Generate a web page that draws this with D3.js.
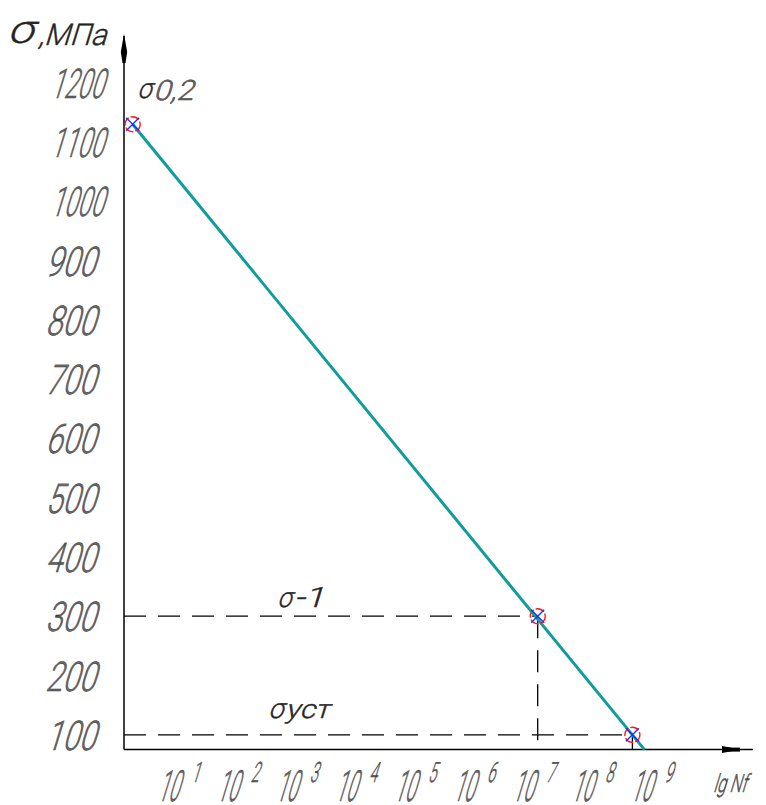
<!DOCTYPE html>
<html>
<head>
<meta charset="utf-8">
<script src="https://cdn.jsdelivr.net/npm/d3@7/dist/d3.min.js"></script>
<style>
  html, body { margin: 0; padding: 0; background: #fff; }
  svg { display: block; }
</style>
</head>
<body>
<svg id="chart" width="766" height="805"></svg>
<script>
// ---- data ----
const yTicks = [100, 200, 300, 400, 500, 600, 700, 800, 900, 1000, 1100, 1200];
const xExponents = [1, 2, 3, 4, 5, 6, 7, 8, 9];
const pointN = [1.4, 1e7, 4e8];
const pointS = [1130, 300, 100];
const pointNames = ["σ0,2", "σ-1", "σуст"];
const lineN = [1.4, 6.4e8];
const lineS = [1130, 75];

const svg = d3.select("#chart");
const FONT = "Roboto, 'DejaVu Sans', sans-serif";

const x = d3.scaleLog().domain([1, 1e9]).range([124, 124 + 9 * 59.1]);
const y = d3.scaleLinear().domain([75, 1200]).range([749.6, 82.7]);

const x0 = x(1), yBase = y(75);

// text helper: upright font, slanted by skew, compressed by textLength
function txt(px, py, str, size, len, anchor, fill) {
  const t = svg.append("text")
    .attr("transform", `translate(${px},${py}) skewX(-17)`)
    .attr("x", 0).attr("y", 0)
    .attr("font-family", FONT)
    .attr("font-weight", 300)
    .attr("font-size", size)
    .attr("text-anchor", anchor || "start")
    .attr("fill", fill || "#666")
    .attr("stroke", "#333")
    .attr("stroke-width", 0.45)
    .text(str);
  if (len) t.attr("textLength", len).attr("lengthAdjust", "spacingAndGlyphs");
  return t;
}

// ---- axes ----
// y axis
svg.append("line").attr("x1", x0).attr("x2", x0)
  .attr("y1", yBase).attr("y2", 36)
  .attr("stroke", "#000").attr("stroke-width", 1.5);
svg.append("path")
  .attr("d", `M${x0},34 L${x0 + 3.2},52 L${x0 + 1.5},63 L${x0 - 1.5},63 L${x0 - 3.2},52 Z`)
  .attr("fill", "#000");
// x axis
svg.append("line").attr("x1", x0).attr("x2", 753)
  .attr("y1", yBase).attr("y2", yBase)
  .attr("stroke", "#000").attr("stroke-width", 1.5);
svg.append("path")
  .attr("d", `M722,${yBase - 3.5} L741,${yBase} L722,${yBase + 3.5} Z`)
  .attr("fill", "#000");
svg.append("rect").attr("x", 728).attr("y", yBase - 2).attr("width", 12).attr("height", 4).attr("fill", "#000");

// y tick labels
yTicks.forEach(v => {
  const four = v >= 1000;
  txt(four ? 50 : 45, y(v) + 15, String(v), 41, four ? 53 : 50, "start");
});

// x tick labels 10^k
xExponents.forEach(k => {
  const px = x(Math.pow(10, k));
  txt(px - 26, 801, "10", 43, 21, "start");
  txt(px + 8, 782, String(k), 28, 8, "start");
});

// axis titles
txt(7, 43, "σ", 40, 26, "start", "#222");
txt(38, 45, ",МПа", 30, 68, "start", "#222");
txt(713, 792, "lg Nf", 25, 33, "start");

// ---- reference dashed lines ----
const dash = "22,12";
svg.append("line").attr("x1", x0).attr("x2", x(pointN[1]))
  .attr("y1", y(pointS[1])).attr("y2", y(pointS[1]))
  .attr("stroke", "#000").attr("stroke-width", 1.3).attr("stroke-dasharray", dash);
svg.append("line").attr("x1", x(pointN[1])).attr("x2", x(pointN[1]))
  .attr("y1", y(pointS[1])).attr("y2", yBase)
  .attr("stroke", "#000").attr("stroke-width", 1.3).attr("stroke-dasharray", dash);
svg.append("line").attr("x1", x0).attr("x2", x(pointN[2]))
  .attr("y1", y(pointS[2])).attr("y2", y(pointS[2]))
  .attr("stroke", "#000").attr("stroke-width", 1.3).attr("stroke-dasharray", dash);
svg.append("line").attr("x1", x(pointN[2])).attr("x2", x(pointN[2]))
  .attr("y1", y(pointS[2])).attr("y2", yBase)
  .attr("stroke", "#000").attr("stroke-width", 1.3);

// ---- fatigue line ----
const lineData = lineN.map((n, i) => [n, lineS[i]]);
svg.append("path")
  .datum(lineData)
  .attr("d", d3.line().x(d => x(d[0])).y(d => y(d[1])))
  .attr("fill", "none").attr("stroke", "#119c9c").attr("stroke-width", 3);

// ---- markers ----
pointN.forEach((n, i) => {
  const cx = x(n), cy = y(pointS[i]);
  svg.append("circle").attr("cx", cx).attr("cy", cy).attr("r", 7.5)
    .attr("fill", "none").attr("stroke", "#ff1a1a").attr("stroke-width", 1.4)
    .attr("stroke-dasharray", "9,2");
  const a = 6.5;
  svg.append("path")
    .attr("d", `M${cx - a},${cy - a} L${cx + a},${cy + a} M${cx - a},${cy + a} L${cx + a},${cy - a}`)
    .attr("stroke", "#2030ff").attr("stroke-width", 1.3).attr("fill", "none");
});

// point labels
txt(137, 98, "σ", 28, 14, "start", "#222");
txt(153, 100, "0,2", 28, 40, "start");
txt(277, 607, "σ", 28, 14, "start", "#222");
txt(294, 607, "-1", 28, 30, "start", "#222");
txt(268, 718, "σ", 28, 15, "start", "#222");
txt(285, 718, "уст", 26, 44, "start", "#222");
</script>
</body>
</html>
